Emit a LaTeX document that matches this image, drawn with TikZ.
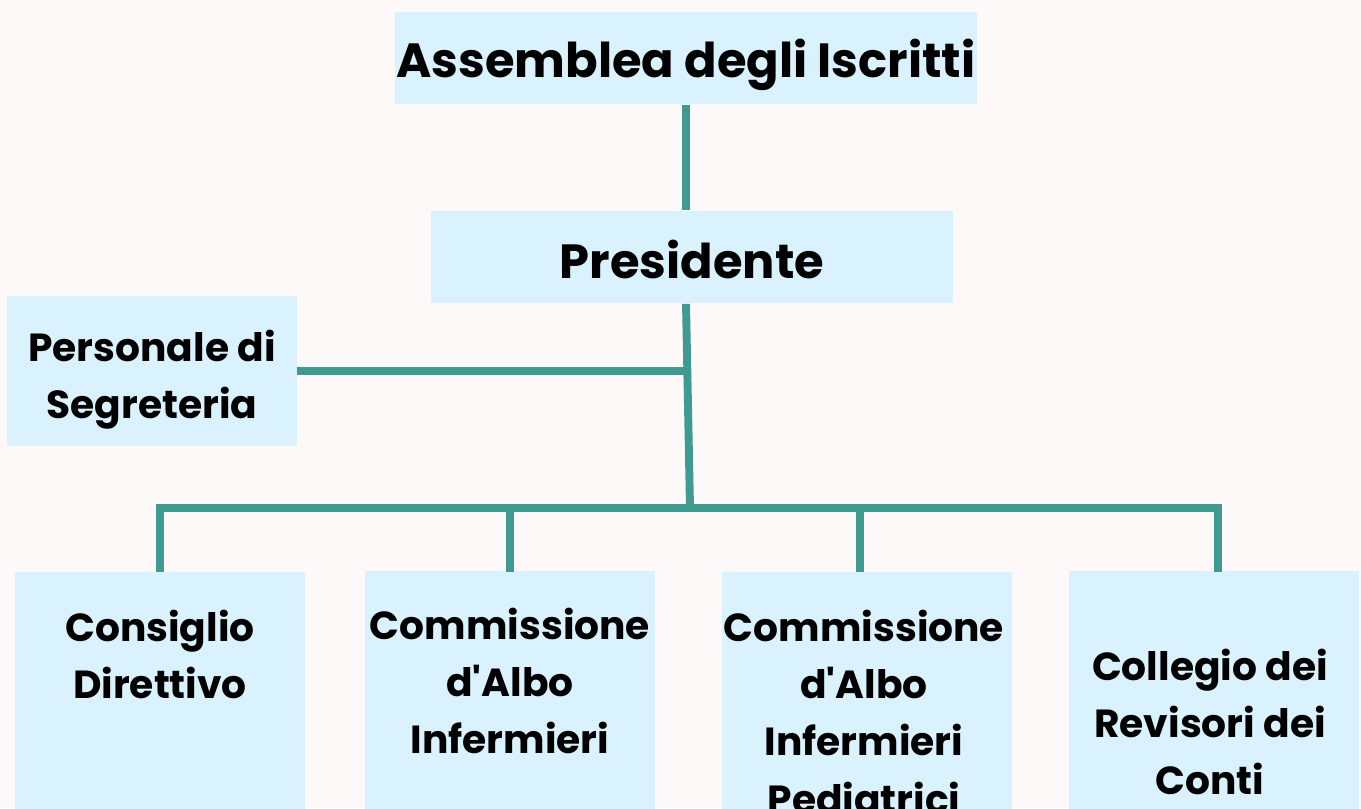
\documentclass[tikz,border=0pt]{standalone}
\usepackage{fontspec}
\setmainfont{Poppins}[Ligatures=TeXOff]
\usetikzlibrary{positioning}

\definecolor{bgpaper}{HTML}{FDF9F8}
\definecolor{boxblue}{HTML}{DAF2FD}
\definecolor{linkteal}{HTML}{3F9A8F}

\tikzset{
  box/.style={fill=boxblue, draw=none, inner sep=0pt, rectangle},
  bigtxt/.style={font=\fontsize{27.3}{32}\selectfont\bfseries, text depth=0pt},
  lbl/.style={font=\fontsize{22.3}{32.5}\selectfont\bfseries, align=center, inner sep=0pt},
  link/.style={draw=linkteal, line width=4.5pt}
}

\begin{document}
\begin{tikzpicture}[x=0.02cm, y=-0.02cm]
			\useasboundingbox (0,0) rectangle (1361,808);
			\fill[bgpaper] (0,0) rectangle (1361,808);
			\clip (0,0) rectangle (1361,808);

			% top of the chart
			\node[box, bigtxt, text height=22pt, minimum width=11.64cm, minimum height=1.86cm] (ass) at (686,58) {Assemblea degli Iscritti};
			\node[box, bigtxt, text height=24pt, minimum width=10.44cm, minimum height=1.86cm] (pres) at (692,257) {Presidente};
			\node[box, minimum width=5.8cm, minimum height=3.02cm] (pers) at (152,371) {};
			\node[lbl, anchor=north] (perstxt) at (152,330) {Personale di\\Segreteria};

			% bottom row
			\node[box, minimum width=5.8cm, minimum height=5cm, anchor=north] (cd) at (160,572) {};
			\node[box, minimum width=5.8cm, minimum height=5cm, anchor=north] (caI) at (510,571) {};
			\node[box, minimum width=5.8cm, minimum height=5cm, anchor=north] (caP) at (867,572) {};
			\node[box, minimum width=5.8cm, minimum height=5cm, anchor=north] (crc) at (1214,571) {};

			\node[lbl, anchor=north] (cdtxt) at (160,610) {Consiglio\\Direttivo};
			\node[lbl, anchor=north] (caItxt) at (510,608) {Commissione\\d'Albo\\Infermieri};
			\node[lbl, anchor=north] (caPtxt) at (864,610) {Commissione\\d'Albo\\Infermieri\\Pediatrici};
			\node[lbl, anchor=north] (crctxt) at (1210,649) {Collegio dei\\Revisori dei\\Conti};

			% connectors
			\coordinate (bus) at (690,508);
			\coordinate (busL) at (156,508);
			\coordinate (busR) at (1222,508);

			\draw[link] (ass.south) -- (ass.south |- pres.north);
			\draw[link] (pres.south -| ass.south) -- (bus);
			\draw[link] (pers.east) -- (pers.east -| bus);
			\draw[link] (busL) -- (busR);
			\foreach \n/\x in {cd/160, caI/510, caP/860, crc/1218}
			  \draw[link] (\x,508) -- (\x,572);

\end{tikzpicture}
\end{document}
